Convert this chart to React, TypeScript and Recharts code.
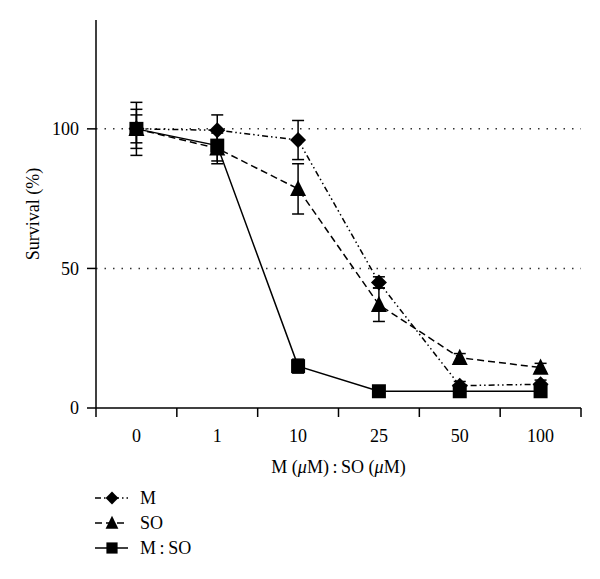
import React from 'react';
import { ComposedChart, Line, XAxis, YAxis, ErrorBar, ReferenceLine, Legend, Label } from 'recharts';

const categories = ['0', '1', '10', '25', '50', '100'];
const mValues = [100, 99.5, 96, 45, 8, 8.5];
const mErrors = [9.5, 5.5, 7, 2, 1.5, 1.5];
const soValues = [100, 93, 78.5, 37, 18, 14.5];
const soErrors = [7, 5.5, 9, 6, 1.5, 1.5];
const msoValues = [100, 94, 15, 6, 6, 6];
const msoErrors = [5, 5.5, 2.5, 1, 1, 1];
const yTicks = [0, 50, 100];
const gridValues = [50, 100];
const seriesNames = ['M', 'SO', 'M\u2009:\u2009SO'];

const data = categories.map((c, i) => ({
  cat: c,
  m: mValues[i],
  mErr: mErrors[i],
  so: soValues[i],
  soErr: soErrors[i],
  mso: msoValues[i],
  msoErr: msoErrors[i],
}));

const FONT = "'Liberation Serif', 'Times New Roman', serif";
const FS = 18;
const X_TICK_SIZE = 9;
const X_TICK_MARGIN = 12;

type Shape = 'diamond' | 'triangle' | 'square';

const shapePath = (shape: Shape, cx: number, cy: number, s = 1) => {
  if (shape === 'diamond') {
    const r = 8 * s;
    return `M${cx},${cy - r}L${cx + r},${cy}L${cx},${cy + r}L${cx - r},${cy}Z`;
  }
  if (shape === 'triangle') {
    const w = 8 * s;
    const h = 9 * s;
    return `M${cx},${cy - h}L${cx + w},${cy + h * 0.8}L${cx - w},${cy + h * 0.8}Z`;
  }
  const a = 7 * s;
  return `M${cx - a},${cy - a}H${cx + a}V${cy + a}H${cx - a}Z`;
};

const seriesStyles: { key: string; err: string; shape: Shape; dash?: string }[] = [
  { key: 'm', err: 'mErr', shape: 'diamond', dash: '6 3 1.5 3 1.5 3' },
  { key: 'so', err: 'soErr', shape: 'triangle', dash: '7 4' },
  { key: 'mso', err: 'msoErr', shape: 'square' },
];

const makeDot = (shape: Shape) => (p: any) => {
  if (p.cx == null || p.cy == null) return <g key={p.index} />;
  return <path key={`${shape}-${p.index}`} d={shapePath(shape, p.cx, p.cy)} fill="#000" stroke="none" />;
};

const XTick = (props: any) => {
  const { x, y, payload, index } = props;
  const off = payload.offset ?? 0;
  const axisY = y - X_TICK_SIZE - X_TICK_MARGIN;
  return (
    <g>
      <line x1={x - off} x2={x - off} y1={axisY} y2={axisY + X_TICK_SIZE} stroke="#000" strokeWidth={1.5} />
      {index === categories.length - 1 && (
        <line x1={x + off} x2={x + off} y1={axisY} y2={axisY + X_TICK_SIZE} stroke="#000" strokeWidth={1.5} />
      )}
      <text x={x} y={y} dy="0.71em" textAnchor="middle" fontFamily={FONT} fontSize={FS} fill="#000">
        {payload.value}
      </text>
    </g>
  );
};

const LegendContent = () => (
  <svg width={220} height={80} style={{ display: 'block' }}>
    {seriesStyles.map((s, i) => {
      const cy = 14 + i * 25;
      return (
        <g key={s.key}>
          <line x1={87} x2={120} y1={cy} y2={cy} stroke="#000" strokeWidth={1.5} strokeDasharray={s.dash} />
          <path d={shapePath(s.shape, 104, cy, 0.8)} fill="#000" />
          <text x={132} y={cy + 6} fontFamily={FONT} fontSize={FS} fill="#000">
            {seriesNames[i]}
          </text>
        </g>
      );
    })}
  </svg>
);

export default function App() {
  return (
    <ComposedChart
      width={600}
      height={571}
      data={data}
      margin={{ top: 12, right: 27, bottom: 100, left: 18 }}
      style={{ fontFamily: FONT }}
    >
      {gridValues.map((g) => (
        <ReferenceLine key={g} y={g} stroke="#333" strokeWidth={1.5} strokeDasharray="1.5 7" />
      ))}
      <XAxis
        dataKey="cat"
        scale="band"
        height={71}
        axisLine={{ stroke: '#000', strokeWidth: 1.5 }}
        tickLine={false}
        tickSize={X_TICK_SIZE}
        tickMargin={X_TICK_MARGIN}
        tick={<XTick />}
        interval={0}
      >
        <Label
          content={(p: any) => {
            const vb = p.viewBox;
            return (
              <text x={vb.x + vb.width / 2} y={vb.y + 65} textAnchor="middle" fontFamily={FONT} fontSize={FS} fill="#000">
                M (<tspan fontStyle="italic">μ</tspan>M){'\u2009:\u2009'}SO (<tspan fontStyle="italic">μ</tspan>M)
              </text>
            );
          }}
        />
      </XAxis>
      <YAxis
        width={70}
        domain={[0, 139]}
        ticks={yTicks}
        interval={0}
        axisLine={{ stroke: '#000', strokeWidth: 1.5 }}
        tickLine={{ stroke: '#000', strokeWidth: 1.5 }}
        tickSize={9}
        tickMargin={8}
        tick={{ fill: '#000', fontSize: FS, fontFamily: FONT }}
      >
        <Label
          content={(p: any) => {
            const vb = p.viewBox;
            const x = vb.x + 7;
            const y = vb.y + vb.height / 2;
            return (
              <text
                x={x}
                y={y}
                transform={`rotate(-90, ${x}, ${y})`}
                textAnchor="middle"
                dominantBaseline="central"
                fontFamily={FONT}
                fontSize={FS}
                fill="#000"
              >
                Survival (%)
              </text>
            );
          }}
        />
      </YAxis>
      <Legend
        layout="horizontal"
        verticalAlign="middle"
        align="center"
        content={<LegendContent />}
        wrapperStyle={{ position: 'absolute', left: 0, top: 476, width: 220, height: 80 }}
      />
      {seriesStyles.map((s, i) => (
        <Line
          key={s.key}
          dataKey={s.key}
          name={seriesNames[i]}
          stroke="#000"
          strokeWidth={1.5}
          strokeDasharray={s.dash}
          dot={makeDot(s.shape)}
          activeDot={false}
          isAnimationActive={false}
          type="linear"
        >
          <ErrorBar dataKey={s.err} width={6} stroke="#000" strokeWidth={1.5} direction="y" />
        </Line>
      ))}
    </ComposedChart>
  );
}
